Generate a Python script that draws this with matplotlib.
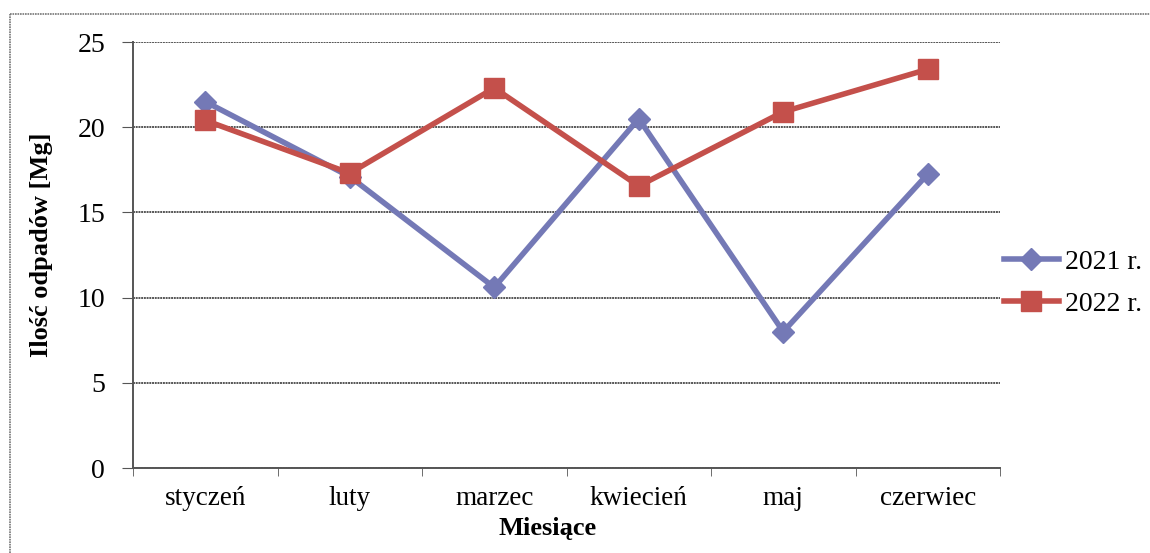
import matplotlib
matplotlib.use("Agg")
import matplotlib.pyplot as plt
from matplotlib.lines import Line2D

months = ["styczeń", "luty", "marzec", "kwiecień", "maj", "czerwiec"]
y2021 = [21.5, 17.1, 10.6, 20.5, 8.0, 17.25]
y2022 = [20.4, 17.3, 22.3, 16.55, 20.9, 23.4]
labels = ["2021 r.", "2022 r."]
yticks = [0, 5, 10, 15, 20, 25]

plt.rcParams['font.family'] = ['Liberation Serif', 'DejaVu Serif']

W, H = 1150, 553
fig = plt.figure(figsize=(W / 100, H / 100), dpi=100)
ax = fig.add_axes([133 / W, 1 - 468 / H, (1000 - 133) / W, (468 - 42) / H])

blue = '#7479B6'
red = '#C4504B'
x = list(range(len(months)))
ax.plot(x, y2021, color=blue, lw=4, marker='D', ms=11, mfc=blue, mec=blue,
        label=labels[0], zorder=3)
ax.plot(x, y2022, color=red, lw=4, marker='s', ms=15, mfc=red, mec=red,
        label=labels[1], zorder=4)

ax.set_xlim(-0.5, len(months) - 0.5)
ax.set_ylim(0, 25)
ax.set_yticks(yticks)
ax.set_yticklabels([str(v) for v in yticks], fontsize=20)
ax.set_xticks(x)
ax.set_xticklabels(months, fontsize=19.5)
ax.set_xticks([i - 0.5 for i in range(len(months) + 1)], minor=True)
ax.tick_params(axis='x', which='major', length=0, pad=13)
ax.tick_params(axis='x', which='minor', length=6, color='#555555', direction='out')
ax.tick_params(axis='y', length=8, color='#555555', direction='out', pad=12)
ax.yaxis.grid(True, color='#555555', lw=1.4, ls=(0, (1, 0.4)))
ax.set_axisbelow(True)
for s in ['top', 'right']:
    ax.spines[s].set_visible(False)
for s in ['left', 'bottom']:
    ax.spines[s].set_color('#555555')
    ax.spines[s].set_linewidth(1.4)

fig.text(42 / W, 1 - 245 / H, "Ilość odpadów [Mg]", rotation=90, fontsize=19,
         fontweight='bold', ha='center', va='center')
fig.text(548 / W, 1 - 528 / H, "Miesiące", fontsize=19, fontweight='bold',
         ha='center', va='center')

handles = [Line2D([], [], color=blue, lw=4, marker='D', ms=11, mfc=blue, mec=blue),
           Line2D([], [], color=red, lw=4, marker='s', ms=15, mfc=red, mec=red)]
fig.legend(handles, labels, loc='center left', bbox_to_anchor=(998 / W, 1 - 283 / H),
           frameon=False, fontsize=20, handlelength=2.0, handletextpad=0.2,
           labelspacing=0.6, borderaxespad=0, borderpad=0.2)

# outer dotted frame
fig.add_artist(Line2D([10 / W, 10 / W], [0, 1 - 14 / H], transform=fig.transFigure,
                      color='#777777', lw=1.2, ls=(0, (1, 0.5))))
fig.add_artist(Line2D([10 / W, 1], [1 - 14 / H, 1 - 14 / H], transform=fig.transFigure,
                      color='#777777', lw=1.2, ls=(0, (1, 0.5))))

fig.savefig("out.png", dpi=100)
